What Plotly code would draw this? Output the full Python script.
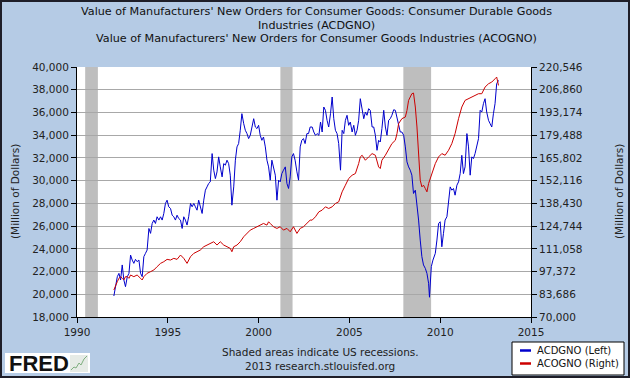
import plotly.graph_objects as go

# ---------------- data ----------------
blue_years = [
    1992.03, 1992.12, 1992.22, 1992.31, 1992.40, 1992.49, 1992.58, 1992.67, 1992.77, 1992.86,
    1992.95, 1993.04, 1993.13, 1993.22, 1993.31, 1993.41, 1993.50, 1993.59, 1993.68, 1993.77,
    1993.86, 1993.96, 1994.05, 1994.14, 1994.23, 1994.32, 1994.41, 1994.51, 1994.60, 1994.69,
    1994.78, 1994.87, 1994.96, 1995.05, 1995.15, 1995.24, 1995.33, 1995.42, 1995.51, 1995.60,
    1995.70, 1995.79, 1995.88, 1995.97, 1996.06, 1996.15, 1996.25, 1996.34, 1996.43, 1996.52,
    1996.61, 1996.70, 1996.79, 1996.89, 1996.98, 1997.07, 1997.16, 1997.25, 1997.34, 1997.44,
    1997.53, 1997.62, 1997.71, 1997.80, 1997.89, 1997.99, 1998.08, 1998.17, 1998.26, 1998.35,
    1998.44, 1998.53, 1998.63, 1998.72, 1998.81, 1998.90, 1998.99, 1999.08, 1999.18, 1999.27,
    1999.36, 1999.45, 1999.54, 1999.63, 1999.73, 1999.82, 1999.91, 2000.00, 2000.09, 2000.18,
    2000.27, 2000.37, 2000.46, 2000.55, 2000.64, 2000.73, 2000.82, 2000.92, 2001.01, 2001.10,
    2001.19, 2001.28, 2001.37, 2001.47, 2001.56, 2001.65, 2001.74, 2001.83, 2001.92, 2002.01,
    2002.11, 2002.20, 2002.29, 2002.38, 2002.47, 2002.56, 2002.66, 2002.75, 2002.84, 2002.95,
    2003.04, 2003.13, 2003.22, 2003.32, 2003.41, 2003.50, 2003.59, 2003.68, 2003.77, 2003.86,
    2003.96, 2004.05, 2004.14, 2004.23, 2004.32, 2004.41, 2004.51, 2004.60, 2004.69, 2004.78,
    2004.87, 2004.96, 2005.05, 2005.15, 2005.24, 2005.33, 2005.42, 2005.51, 2005.60, 2005.70,
    2005.79, 2005.88, 2005.97, 2006.06, 2006.15, 2006.25, 2006.34, 2006.43, 2006.52, 2006.61,
    2006.70, 2006.79, 2006.89, 2006.98, 2007.07, 2007.16, 2007.25, 2007.34, 2007.44, 2007.53,
    2007.62, 2007.71, 2007.80, 2007.89, 2007.99, 2008.08, 2008.17, 2008.26, 2008.35, 2008.44,
    2008.53, 2008.63, 2008.72, 2008.81, 2008.90, 2008.99, 2009.08, 2009.18, 2009.27, 2009.36,
    2009.41, 2009.51, 2009.60, 2009.73, 2009.82, 2009.91, 2010.00, 2010.09, 2010.18, 2010.27,
    2010.37, 2010.46, 2010.55, 2010.64, 2010.73, 2010.82, 2010.92, 2011.01, 2011.10, 2011.19,
    2011.28, 2011.37, 2011.47, 2011.56, 2011.65, 2011.74, 2011.83, 2011.92, 2012.01, 2012.11,
    2012.20, 2012.29, 2012.38, 2012.47, 2012.56, 2012.66, 2012.75, 2012.84, 2012.93, 2013.02,
    2013.11, 2013.21,
]
acdgno = [
    19850, 20670, 21550, 21840, 21260, 22580, 21260, 20670, 21550, 21840,
    23450, 23010, 22720, 23070, 22870, 23010, 21840, 21550, 23310, 23600,
    23890, 25790, 25360, 26230, 26530, 26230, 26820, 26530, 26820, 26530,
    27110, 27990, 28280, 27700, 27550, 26960, 26820, 26530, 26960, 26670,
    26530, 25790, 26820, 26530, 26090, 26820, 27990, 27700, 27990, 27700,
    27400, 28280, 27700, 27110, 28280, 29160, 29450, 29750, 29890, 32380,
    30920, 30180, 30770, 32090, 31210, 30330, 31500, 31360, 31800, 31500,
    30480, 27840, 29450, 31800, 32970, 33260, 34430, 35890, 35010, 34430,
    34140, 33700, 33990, 34580, 35450, 34720, 34580, 34870, 33990, 33550,
    33840, 32970, 31800, 31210, 30040, 31800, 31210, 30480, 28280, 30040,
    29890, 30620, 30920, 31210, 29750, 29310, 30330, 32090, 32380, 31800,
    30770, 30040, 32970, 33550, 33700, 33260, 34140, 34140, 34720, 34720,
    34280, 33990, 34140, 33990, 35160, 34280, 36480, 36190, 35310, 34720,
    35890, 37360, 35450, 34430, 34140, 33260, 30920, 34430, 34140, 35310,
    35750, 34870, 35160, 34280, 34870, 33990, 34430, 35310, 37210, 36330,
    35450, 36040, 35750, 36330, 36190, 34720, 34720, 33990, 32670, 33550,
    33400, 34580, 36190, 34720, 33990, 35310, 35450, 35750, 36240, 36190,
    35450, 35010, 34280, 34280, 33990, 32970, 31650, 31210, 30920, 30480,
    28870, 29160, 27990, 26530, 24770, 23310, 22580, 22280, 21840, 20970,
    19740, 22430, 23010, 23600, 24770, 26230, 26380, 24180, 25360, 26530,
    26820, 27990, 29450, 29160, 29310, 28720, 29600, 29890, 30620, 32230,
    30620, 31210, 34140, 32970, 30480, 32090, 31940, 32380, 32970, 33700,
    36190, 36040, 36770, 37210, 36040, 35310, 35010, 34720, 35890, 36770,
    38530, 38820,
]

red_years = [
    1992.03, 1992.12, 1992.22, 1992.31, 1992.40, 1992.49, 1992.58, 1992.67, 1992.77, 1992.86,
    1992.95, 1993.13, 1993.31, 1993.50, 1993.59, 1993.68, 1993.86, 1994.05, 1994.23, 1994.41,
    1994.60, 1994.78, 1994.96, 1995.15, 1995.33, 1995.51, 1995.70, 1995.88, 1996.06, 1996.25,
    1996.43, 1996.61, 1996.79, 1996.98, 1997.16, 1997.34, 1997.53, 1997.71, 1997.89, 1998.08,
    1998.26, 1998.44, 1998.53, 1998.63, 1998.81, 1998.99, 1999.18, 1999.36, 1999.54, 1999.73,
    1999.91, 2000.09, 2000.27, 2000.46, 2000.55, 2000.64, 2000.82, 2001.01, 2001.19, 2001.37,
    2001.56, 2001.74, 2001.92, 2002.11, 2002.29, 2002.47, 2002.66, 2002.84, 2002.95, 2003.13,
    2003.32, 2003.50, 2003.68, 2003.86, 2004.05, 2004.23, 2004.41, 2004.51, 2004.60, 2004.78,
    2004.96, 2005.15, 2005.33, 2005.51, 2005.60, 2005.70, 2005.88, 2006.06, 2006.25, 2006.43,
    2006.61, 2006.70, 2006.79, 2006.98, 2007.16, 2007.34, 2007.53, 2007.62, 2007.71, 2007.80,
    2007.89, 2008.08, 2008.17, 2008.26, 2008.44, 2008.53, 2008.63, 2008.72, 2008.81, 2008.90,
    2008.99, 2009.08, 2009.18, 2009.27, 2009.36, 2009.54, 2009.73, 2009.91, 2010.09, 2010.27,
    2010.46, 2010.64, 2010.82, 2011.01, 2011.19, 2011.37, 2011.56, 2011.74, 2011.92, 2012.11,
    2012.29, 2012.47, 2012.66, 2012.84, 2013.02, 2013.11, 2013.21,
]
acogno = [
    86280, 89280, 91290, 93290, 94290, 93290, 92290, 94290, 94290, 93290,
    95290, 94290, 95290, 93290, 92290, 94290, 96290, 97300, 98300, 100300,
    102300, 103300, 104710, 104310, 105310, 104710, 107310, 105310, 102300, 106310,
    108310, 109310, 110320, 112320, 113320, 114320, 115320, 113320, 115320, 113320,
    112320, 111320, 109310, 112320, 113320, 115320, 118330, 120330, 122330, 123340,
    124340, 125340, 126340, 125340, 127340, 126340, 124340, 123340, 124340, 122330,
    123340, 121330, 124340, 120330, 123340, 124340, 126340, 128340, 128340, 130350,
    133350, 134350, 136350, 135350, 136350, 138360, 139360, 142360, 145370, 149370,
    153380, 155380, 156380, 162390, 166400, 167400, 164400, 166400, 168400, 167400,
    160390, 159390, 164400, 167400, 171410, 174410, 176410, 180420, 186430, 188430,
    189430, 190430, 194440, 200450, 204460, 204860, 196440, 184420, 168400, 152380,
    148370, 149370, 147370, 145370, 150370, 156380, 162390, 166400, 168400, 167400,
    170400, 174410, 180420, 189430, 196440, 200450, 201450, 202450, 203450, 204460,
    204460, 208460, 210460, 211470, 213470, 214470, 209460,
]

# NBER recessions (start, end) in fractional years
recessions = [(1990.45, 1991.15), (2001.2, 2001.87), (2007.97, 2009.5)]

x_ticks = [1990, 1995, 2000, 2005, 2010, 2015]
left_range = [18000, 40000]
right_ticks = [70000, 83686, 97372, 111058, 124744, 138430, 152116,
               165802, 179488, 193174, 206860, 220546]

title_lines = [
    "Value of Manufacturers' New Orders for Consumer Goods: Consumer Durable Goods",
    "Industries (ACDGNO)",
    "Value of Manufacturers' New Orders for Consumer Goods Industries (ACOGNO)",
]

# ---------------- layout helpers ----------------
W, H = 630, 378
ML, MR, MT, MB = 77, 99, 67, 61
PW, PH = W - ML - MR, H - MT - MB


def px(x, y):
    return (x - ML) / PW, (H - MB - y) / PH


FONT = "DejaVu Sans, Verdana, sans-serif"
BG = "#B5CBE5"
BLUE = "#0000CC"
RED = "#CC0000"

fig = go.Figure()
fig.add_trace(go.Scatter(x=blue_years, y=acdgno, mode="lines", name="ACDGNO (Left)",
                         line=dict(color=BLUE, width=1), yaxis="y"))
fig.add_trace(go.Scatter(x=red_years, y=acogno, mode="lines", name="ACOGNO (Right)",
                         line=dict(color=RED, width=1), yaxis="y2"))

shapes = []
for a, b in recessions:
    shapes.append(dict(type="rect", xref="x", yref="paper", x0=a, x1=b, y0=0, y1=1,
                       fillcolor="#BEBEBE", line=dict(width=0), layer="between"))

annotations = []
for i, t in enumerate(title_lines):
    xp, yp = px(316, 11.7 + 13.3 * i)
    annotations.append(dict(text=t, x=xp, y=yp, xref="paper", yref="paper",
                            xanchor="center", yanchor="middle", showarrow=False,
                            font=dict(family=FONT, size=11.2, color="#111")))

# axis titles
for xx in (15, 619):
    xp, yp = px(xx, 192)
    annotations.append(dict(text="(Million of Dollars)", x=xp, y=yp, xref="paper", yref="paper",
                            xanchor="center", yanchor="middle", textangle=-90, showarrow=False,
                            font=dict(family=FONT, size=10.5, color="#222")))

# footer text
for t, yy in (("Shaded areas indicate US recessions.", 352), ("2013 research.stlouisfed.org", 365.5)):
    xp, yp = px(320, yy)
    annotations.append(dict(text=t, x=xp, y=yp, xref="paper", yref="paper",
                            xanchor="center", yanchor="middle", showarrow=False,
                            font=dict(family=FONT, size=10.5, color="#222")))

# legend box (manual)
x0, y0 = px(512, 342)
x1, y1 = px(624, 375)
shapes.append(dict(type="rect", xref="paper", yref="paper", x0=x0, x1=x1, y0=y1, y1=y0,
                   fillcolor="white", line=dict(color="black", width=1), layer="above"))
for (name, col, yy) in (("ACDGNO (Left)", BLUE, 350.5), ("ACOGNO (Right)", RED, 363.5)):
    a0, b0 = px(520, yy)
    a1, _ = px(531, yy)
    shapes.append(dict(type="line", xref="paper", yref="paper", x0=a0, x1=a1, y0=b0, y1=b0,
                       line=dict(color=col, width=2.5), layer="above"))
    tx, ty = px(535, yy)
    annotations.append(dict(text=name, x=tx, y=ty, xref="paper", yref="paper",
                            xanchor="left", yanchor="middle", showarrow=False,
                            font=dict(family=FONT, size=10, color="#111")))

# FRED logo
lx0, ly0 = px(5, 353)
lx1, ly1 = px(90, 373)
shapes.append(dict(type="rect", xref="paper", yref="paper", x0=lx0, x1=lx1, y0=ly1, y1=ly0,
                   fillcolor="white", line=dict(width=0), layer="above"))
ix0, iy0 = px(70, 355)
ix1, iy1 = px(88, 372)
shapes.append(dict(type="rect", xref="paper", yref="paper", x0=ix0, x1=ix1, y0=iy1, y1=iy0,
                   fillcolor="#E6EBE6", line=dict(width=0), layer="above"))
spark = [(71, 370), (74, 367), (76, 368), (79, 363), (81, 365), (84, 359), (87, 356)]
path = "M " + " L ".join(f"{px(a, b)[0]:.5f},{px(a, b)[1]:.5f}" for a, b in spark)
shapes.append(dict(type="path", xref="paper", yref="paper", path=path,
                   line=dict(color="#7FAF7F", width=1), layer="above"))
fx, fy = px(7, 363.5)
annotations.append(dict(text="<b>FRED</b>", x=fx, y=fy, xref="paper", yref="paper",
                        xanchor="left", yanchor="middle", showarrow=False,
                        font=dict(family="Liberation Sans, Arial, sans-serif", size=22, color="#111")))

# outer border
bx0, by0 = px(1, 1)
bx1, by1 = px(W - 1, H - 1)
shapes.append(dict(type="rect", xref="paper", yref="paper", x0=bx0, x1=bx1, y0=by1, y1=by0,
                   fillcolor="rgba(0,0,0,0)", line=dict(color="#1E1E28", width=2), layer="above"))

fig.update_layout(
    width=W, height=H,
    margin=dict(l=ML, r=MR, t=MT, b=MB, pad=0),
    paper_bgcolor=BG, plot_bgcolor="white",
    showlegend=False,
    hovermode=False,
    font=dict(family=FONT, size=10.5, color="#222"),
    xaxis=dict(range=[1990, 2015], tickvals=x_ticks, ticktext=[str(v) for v in x_ticks],
               showgrid=False, zeroline=False, showline=True, linecolor="black", linewidth=1,
               ticks="outside", ticklen=5, tickcolor="black"),
    yaxis=dict(range=left_range, dtick=2000, tickformat=",d", showgrid=True,
               gridcolor="#A8A8A8", gridwidth=1, zeroline=False, showline=True,
               linecolor="black", linewidth=1, ticks="outside", ticklen=5, tickcolor="black"),
    yaxis2=dict(range=[right_ticks[0], right_ticks[-1]], tickvals=right_ticks,
                ticktext=[f"{v:,}" for v in right_ticks], overlaying="y", side="right",
                showgrid=False, zeroline=False, showline=True, linecolor="black", linewidth=1,
                ticks="outside", ticklen=5, tickcolor="black"),
    shapes=shapes,
    annotations=annotations,
)

fig.write_html("out.html",
               config=dict(displayModeBar=False),
               post_script="document.body.style.margin='0';document.body.style.padding='0';"
                           "document.body.style.overflow='hidden';")
